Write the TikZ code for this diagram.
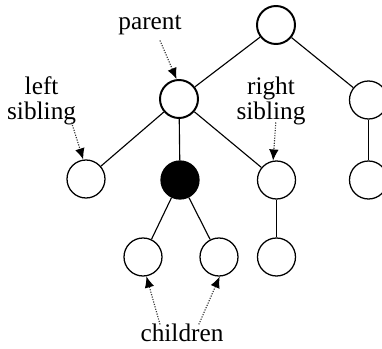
\documentclass[tikz,border=0pt]{standalone}
\usepackage{fontspec}
\setmainfont{Liberation Serif}
\usetikzlibrary{arrows.meta}

\begin{document}
\begin{tikzpicture}[
  vertex/.style={circle, draw, line width=0.9pt, minimum size=0.95cm, inner sep=0pt},
  focus/.style={vertex, line width=1.4pt},
  label/.style={font=\fontsize{18}{17.5}\selectfont, align=center, inner sep=1pt},
  pointer/.style={densely dotted, line width=0.8pt, black!80, -{Latex[length=2.8mm,width=2.4mm,black]}},
  branch/.style={line width=0.8pt}]

\useasboundingbox (0,0) rectangle (9.55,8.725);

% the tree
\node [focus] (root) at (6.9,8.1) {};
\node [focus] (p) at (4.475,6.25) {};
\node [vertex] (u) at (9.2125,6.225) {};
\node [vertex] (ls) at (2.15,4.25) {};
\node [vertex, fill=black] (v) at (4.5,4.225) {};
\node [vertex] (rs) at (6.9125,4.225) {};
\node [vertex] (w) at (9.2125,4.225) {};
\node [vertex] (c1) at (3.575,2.3) {};
\node [vertex] (c2) at (5.475,2.3) {};
\node [vertex] (x) at (6.9125,2.3) {};

\foreach \a/\b in {root/p, root/u, p/ls, p/v, p/rs, u/w, v/c1, v/c2, rs/x}
  \draw [branch] (\a) -- (\b);

% labels and pointers
\node [label] (lp) at (3.75,8.1) {parent};
\node [label] (lls) at (1.04,6.2) {left\\sibling};
\node [label] (lrs) at (6.775,6.2) {right\\sibling};
\node [label] (lc) at (4.55,0.4) {children};

\draw [pointer] (lp.south) ++(0.25,-0.1) coordinate (a1) -- (p.97);
\draw [pointer] (lls.south) ++(0.75,0.1) coordinate (a2) -- (ls.98);
\draw [pointer] (lrs.south) ++(0.12,0.1) coordinate (a3) -- (rs.100);
\draw [pointer] (lc.north) ++(-0.55,-0.05) coordinate (a4) -- (c1.-80);
\draw [pointer] (lc.north) ++(0.42,-0.05) coordinate (a5) -- (c2.-88);

\end{tikzpicture}
\end{document}
